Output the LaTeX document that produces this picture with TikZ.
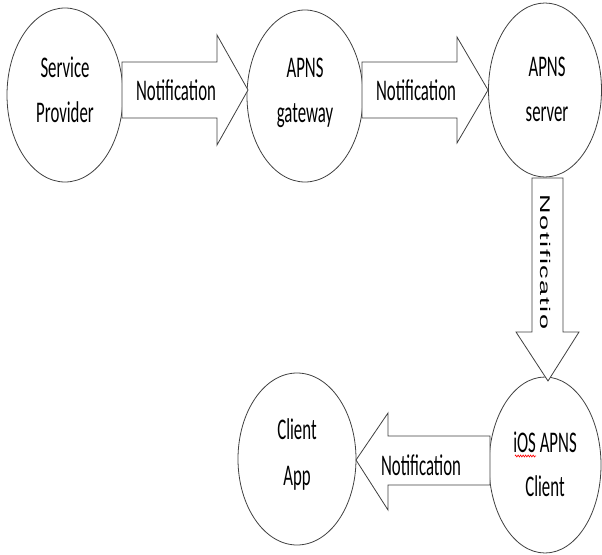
\documentclass[tikz,border=0pt]{standalone}
\usepackage{fontspec}
\setmainfont{Carlito}
\newfontfamily\arialfont[LetterSpace=6]{Liberation Sans}
\usetikzlibrary{shapes.geometric,decorations.pathmorphing}
\newcommand{\sqz}[1]{\scalebox{0.56}[1]{#1}}
\begin{document}
\begin{tikzpicture}[x=1pt,y=-1pt,
  bubble/.style={ellipse,draw=black!75,line width=0.8pt,inner sep=0pt},
  blockarrow/.style={draw=black!75,line width=0.8pt,fill=white,line join=miter},
  lbl/.style={anchor=base,inner sep=0pt,font=\fontsize{30}{30}\selectfont}]
\useasboundingbox (0,0) rectangle (602,554);
% bubbles
\node[bubble,minimum width=116pt,minimum height=174pt] (sp) at (65,95) {};
\node[bubble,minimum width=116pt,minimum height=172pt] (gw) at (305,96) {};
\node[bubble,minimum width=113pt,minimum height=174pt] (srv) at (545,90) {};
\node[bubble,minimum width=112pt,minimum height=176pt] (ios) at (545,465) {};
\node[bubble,minimum width=118pt,minimum height=172pt] (app) at (297,459) {};
% block arrows
\draw[blockarrow] (122,62) -- (217,62) -- (217,35) -- (248,90) -- (217,145) -- (217,118) -- (122,118) -- cycle;
\draw[blockarrow] (362,62) -- (457,62) -- (457,37) -- (488,90) -- (457,143) -- (457,118) -- (362,118) -- cycle;
\draw[blockarrow] (532,178) -- (563,178) -- (563,332) -- (579,332) -- (548,381) -- (516,332) -- (532,332) -- cycle;
\draw[blockarrow] (490,436) -- (388,436) -- (388,413) -- (356,460) -- (388,510) -- (388,485) -- (490,485) -- cycle;
% texts
\node[lbl] (sp1) at (65,77) {\sqz{Service}};
\node[lbl] (sp2) at (65,122) {\sqz{Provider}};
\node[lbl] (gw1) at (305,77) {\sqz{APNS}};
\node[lbl] (gw2) at (305,122) {\sqz{gateway}};
\node[lbl] (sv1) at (547,76) {\sqz{APNS}};
\node[lbl] (sv2) at (547,121) {\sqz{server}};
\node[lbl] (ap1) at (297,439) {\sqz{Client}};
\node[lbl] (ap2) at (297,485) {\sqz{App}};
\node[lbl] (io1) at (545,452) {\sqz{iOS APNS}};
\node[lbl] (io2) at (545,496) {\sqz{Client}};
\node[lbl] (n1) at (176,100) {\sqz{Notification}};
\node[lbl] (n2) at (416,100) {\sqz{Notification}};
\node[lbl] (n4) at (421,475) {\sqz{Notification}};
\node[inner sep=0pt,rotate=-90,font=\arialfont\fontsize{27}{27}\selectfont] (n3) at (546,262) {\scalebox{1}[0.52]{Notificatio}};
% spelling squiggle
\draw[red,line width=0.6pt,decorate,decoration={zigzag,segment length=2.5pt,amplitude=1pt}] (515,456) -- (536,456);
\end{tikzpicture}
\end{document}
